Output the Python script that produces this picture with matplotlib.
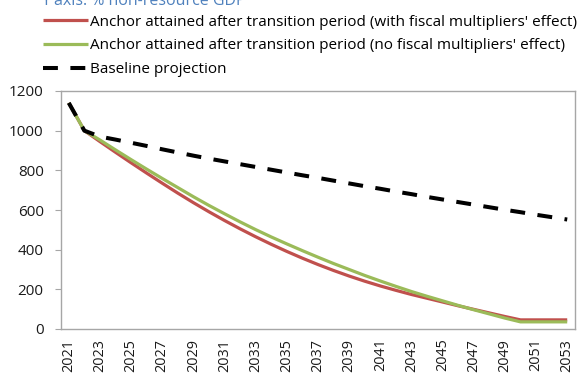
import matplotlib
matplotlib.use("Agg")
import matplotlib.pyplot as plt

plt.rcParams['font.family'] = ['Open Sans', 'DejaVu Sans']

years = [str(y) for y in range(2021, 2054)]

with_multipliers = [1140, 1000, 945, 891, 838, 786, 735, 685, 637, 591, 547,
                    505, 465, 427, 391, 357, 325, 295, 267, 241, 217, 195,
                    174, 155, 136, 117, 99, 81, 63, 46, 46, 46, 46]
no_multipliers = [1140, 1000, 953, 903, 854, 806, 759, 713, 667, 623, 581,
                  540, 501, 464, 429, 395, 362, 330, 300, 270, 242, 215,
                  189, 165, 142, 119, 97, 76, 55, 36, 36, 36, 36]
baseline = [1140, 1000, 970, 955, 939, 923, 906, 890, 874, 859, 845,
            831, 817, 803, 789, 775, 762, 748, 734, 720, 707, 693,
            680, 666, 653, 640, 627, 614, 601, 589, 576, 564, 552]

labels = ["Anchor attained after transition period (with fiscal multipliers' effect)",
          "Anchor attained after transition period (no fiscal multipliers' effect)",
          "Baseline projection"]
y_ticks = [0, 200, 400, 600, 800, 1000, 1200]
title = "Y axis: % non-resource GDP"

fig = plt.figure(figsize=(5.78, 3.74), dpi=100)
ax = fig.add_axes([61 / 578, 1 - 329 / 374, 514 / 578, 238 / 374])

x = list(range(len(years)))
l1, = ax.plot(x, with_multipliers, color='#C0504D', lw=2.3, solid_capstyle='butt')
l2, = ax.plot(x, no_multipliers, color='#9BBB59', lw=2.3, solid_capstyle='butt')
l3, = ax.plot(x, baseline, color='black', lw=2.9, dashes=[3.7, 3.1],
              dash_capstyle='butt')

ax.set_xlim(-0.5, len(years) - 0.5)
ax.set_ylim(0, 1200)
ax.set_yticks(y_ticks)
ax.set_xticks(x[::2])
ax.set_xticklabels(years[::2], rotation=90)

for s in ax.spines.values():
    s.set_color('#A6A6A6')
    s.set_linewidth(1.0)
ax.tick_params(axis='y', direction='out', length=4, color='#A6A6A6',
               labelsize=11, pad=8.5, labelcolor='#1a1a1a')
ax.tick_params(axis='x', length=0, labelsize=10.4, pad=7, labelcolor='#1a1a1a')

fig.legend([l1, l2, l3], labels, loc='upper left',
           bbox_to_anchor=(43 / 578, 1 - 14.5 / 374), frameon=False,
           fontsize=11, handlelength=2.95, handletextpad=0.12,
           labelspacing=0.58, borderaxespad=0, borderpad=0)

fig.text(41 / 578, 1 - 5 / 374, title, color='#4F81BD', fontsize=11.5,
         va='baseline', ha='left')

fig.savefig('out.png', dpi=100)
